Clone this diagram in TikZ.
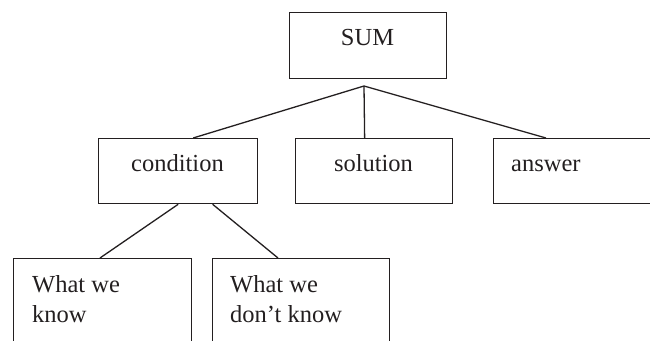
\documentclass[tikz,border=0pt]{standalone}
\usepackage{fontspec}
\setmainfont{Liberation Serif}
\definecolor{ink}{HTML}{231F20}
\begin{document}
\begin{tikzpicture}[x=1pt,y=-1pt,
  box/.style={draw=ink, line width=1.3pt, rectangle, inner sep=0pt, anchor=north west},
  lbl/.style={text=ink, inner sep=0pt, font=\fontsize{24.5}{30}\selectfont},
  conn/.style={draw=ink, line width=1.3pt}]
\useasboundingbox (0,0) rectangle (650,340);
\clip (0,0) rectangle (650,340);
% boxes
\node[box, minimum width=157pt, minimum height=66pt] (sum) at (289,12) {};
\node[box, minimum width=159pt, minimum height=65pt] (condition) at (98,138) {};
\node[box, minimum width=157pt, minimum height=65pt] (solution) at (295,138) {};
\node[box, minimum width=200pt, minimum height=65pt] (answer) at (493,138) {};
\node[box, minimum width=178pt, minimum height=120pt] (know) at (13,258) {};
\node[box, minimum width=177pt, minimum height=120pt] (dontknow) at (212,258) {};
% texts
\node[lbl, anchor=base] (tsum) at (367.5,45) {SUM};
\node[lbl, anchor=base] (tcond) at (177.5,171) {condition};
\node[lbl, anchor=base] (tsol) at (373.5,171) {solution};
\node[lbl, anchor=base west] (tans) at (511,171) {answer};
\node[lbl, anchor=base west] (tk1) at (32,292) {What we};
\node[lbl, anchor=base west] (tk2) at (32,322) {know};
\node[lbl, anchor=base west] (td1) at (230,292) {What we};
\node[lbl, anchor=base west] (td2) at (230,322) {don’t know};
% connectors
\coordinate (apex) at (364,86);
\draw[conn] (apex) -- ([xshift=15pt]condition.north);
\draw[conn] (apex) -- ([xshift=-9.5pt]solution.north);
\draw[conn] (apex) -- ([xshift=53pt]answer.north west);
\draw[conn] (condition.south) -- ([xshift=87pt]know.north west);
\draw[conn] ([xshift=34.5pt]condition.south) -- ([xshift=66pt]dontknow.north west);
\end{tikzpicture}
\end{document}
